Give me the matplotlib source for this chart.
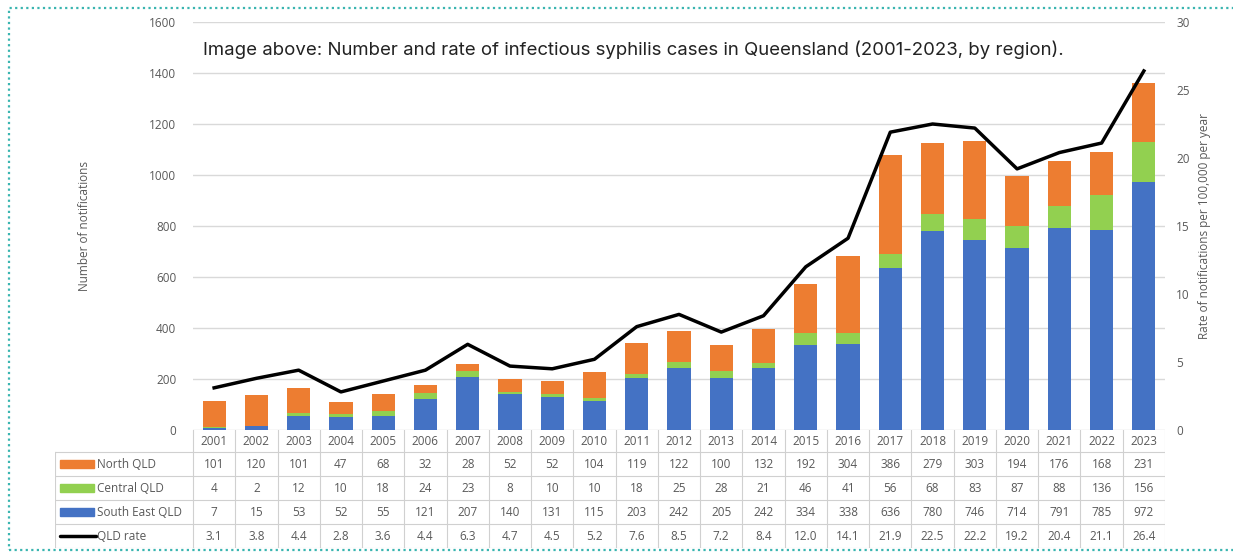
import matplotlib
import numpy as np

matplotlib.use("Agg")
import matplotlib.pyplot as plt
from matplotlib.patches import Rectangle

YEARS = [str(y) for y in range(2001, 2024)]
NORTH = [101, 120, 101, 47, 68, 32, 28, 52, 52, 104, 119, 122, 100, 132, 192, 304, 386, 279, 303, 194, 176, 168, 231]
CENTRAL = [4, 2, 12, 10, 18, 24, 23, 8, 10, 10, 18, 25, 28, 21, 46, 41, 56, 68, 83, 87, 88, 136, 156]
SOUTH_EAST = [7, 15, 53, 52, 55, 121, 207, 140, 131, 115, 203, 242, 205, 242, 334, 338, 636, 780, 746, 714, 791, 785, 972]
RATE = [3.1, 3.8, 4.4, 2.8, 3.6, 4.4, 6.3, 4.7, 4.5, 5.2, 7.6, 8.5, 7.2, 8.4, 12.0, 14.1, 21.9, 22.5, 22.2, 19.2, 20.4, 21.1, 26.4]
ROW_LABELS = ["North QLD", "Central QLD", "South East QLD", "QLD rate"]

ORANGE, GREEN, BLUE = "#ED7D31", "#92D050", "#4472C4"
GREY_TXT = "#595959"
GRID = "#d9d9d9"

W, H = 1233, 554
fig = plt.figure(figsize=(W / 100, H / 100), dpi=100)
plt.rcParams["font.family"] = ["Open Sans", "DejaVu Sans"]


def fx(px):
    return px / W


def fy(py):
    return 1 - py / H


x0, x1, ytop, ybot = 193, 1165, 22, 430
ax = fig.add_axes([fx(x0), fy(ybot), fx(x1 - x0), fy(ytop) - fy(ybot)])
x = np.arange(len(YEARS))
se = np.array(SOUTH_EAST)
ce = np.array(CENTRAL)
no = np.array(NORTH)
bw = 0.55
ax.bar(x, se, bw, color=BLUE, zorder=2)
ax.bar(x, ce, bw, bottom=se, color=GREEN, zorder=2)
ax.bar(x, no, bw, bottom=se + ce, color=ORANGE, zorder=2)
ax.set_xlim(-0.5, len(YEARS) - 0.5)
ax.set_ylim(0, 1600)
ax.set_yticks(range(0, 1601, 200))
ax.yaxis.grid(True, color=GRID, linewidth=1)
ax.set_axisbelow(True)
ax.set_xticks([])
for s in ax.spines.values():
    s.set_visible(False)
ax.tick_params(axis="y", length=0, labelsize=8.5, labelcolor=GREY_TXT, pad=12)
ax.set_ylabel("Number of notifications", fontsize=8.5, color=GREY_TXT, labelpad=42)

ax2 = ax.twinx()
ax2.plot(x, RATE, color="black", linewidth=2.5, zorder=3)
ax2.set_ylim(0, 30)
ax2.set_yticks(range(0, 31, 5))
for s in ax2.spines.values():
    s.set_visible(False)
ax2.tick_params(axis="y", length=0, labelsize=8.5, labelcolor=GREY_TXT, pad=8)
ax2.set_ylabel("Rate of notifications per 100,000 per year", fontsize=8.5, color=GREY_TXT, labelpad=6)

ax.text(-0.27, 1490, "Image above: Number and rate of infectious syphilis cases in Queensland (2001-2023, by region).",
        fontsize=13.4, color="#222222", va="center", ha="left", family=["Inter", "DejaVu Sans"], zorder=5)

# data table beneath the chart
tl, tb = 55, 548
slot = (x1 - x0) / len(YEARS)
tax = fig.add_axes([fx(tl), fy(tb), fx(x1 - tl), fy(ybot) - fy(tb)])
tax.set_xlim(-0.5 - (x0 - tl) / slot, len(YEARS) - 0.5)
tax.set_ylim(len(ROW_LABELS) + 0.92, 0)
tax.axis("off")
lc = "#d0d0d0"
lab_left = -0.5 - (x0 - tl) / slot
for i in range(len(YEARS) + 1):
    tax.plot([i - 0.5, i - 0.5], [0, len(ROW_LABELS) + 0.92], color=lc, linewidth=0.8)
tax.plot([lab_left, lab_left], [0.92, len(ROW_LABELS) + 0.92], color=lc, linewidth=0.8)
for r in range(len(ROW_LABELS) + 1):
    tax.plot([lab_left, len(YEARS) - 0.5], [0.92 + r, 0.92 + r], color=lc, linewidth=0.8)
for i, yr in enumerate(YEARS):
    tax.text(i, 0.5, yr, ha="center", va="center", fontsize=8.5, color=GREY_TXT)
rows = [NORTH, CENTRAL, SOUTH_EAST, [f"{v:.1f}" for v in RATE]]
for r, vals in enumerate(rows):
    yc = 1.42 + r
    for i, v in enumerate(vals):
        tax.text(i, yc, str(v), ha="center", va="center", fontsize=8.5, color=GREY_TXT)
    tax.text(lab_left + 1.0, yc, ROW_LABELS[r], ha="left", va="center", fontsize=8.5, color=GREY_TXT)
sw_x = lab_left + 0.12
sw_w = 0.8
for r, col in enumerate([ORANGE, GREEN, BLUE]):
    tax.add_patch(Rectangle((sw_x, 1.42 + r - 0.17), sw_w, 0.34, color=col))
tax.plot([sw_x, sw_x + sw_w + 0.05], [4.42, 4.42], color="black", linewidth=2.5, solid_capstyle="round")

# dotted frame around the whole figure
fig.patches.append(Rectangle((fx(9), fy(550)), fx(1260 - 9), fy(8) - fy(550), transform=fig.transFigure,
                             fill=False, edgecolor="#3ab5b0", linewidth=1.6, linestyle=(0, (1, 1.5))))

fig.savefig("out.png", dpi=100)
